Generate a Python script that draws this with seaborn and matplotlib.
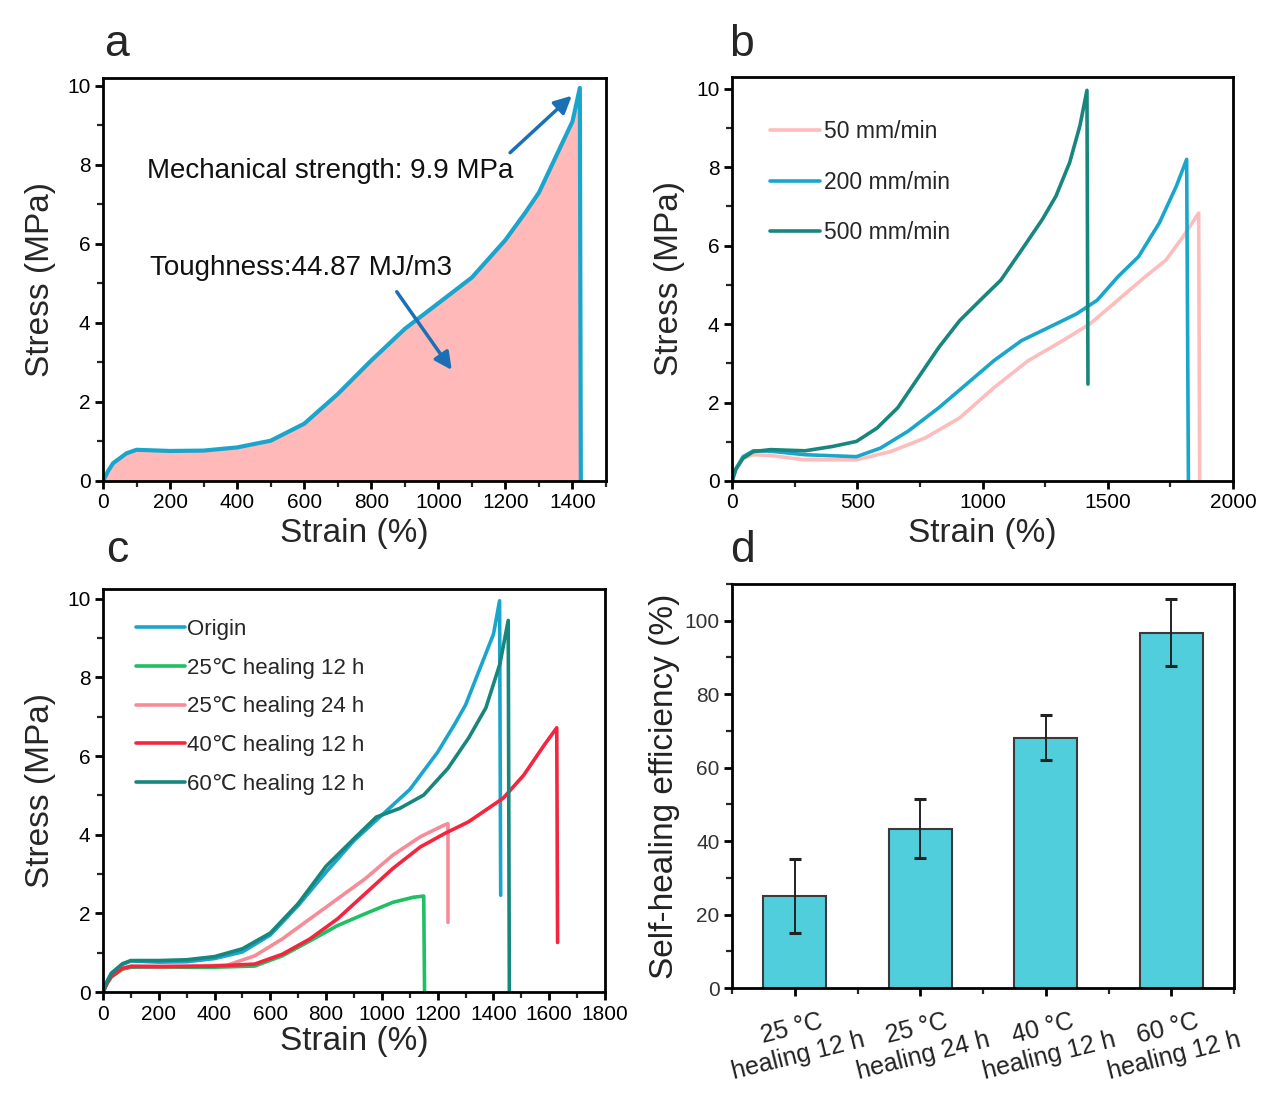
import numpy as np
import pandas as pd
import matplotlib
matplotlib.use('Agg')
import matplotlib.pyplot as plt
import seaborn as sns
from matplotlib.ticker import MultipleLocator

# ---------------- data ----------------
# Origin curve (panels a and c), up to fracture peak
ORIGIN_STRAIN = [0, 15, 30, 70, 100, 200, 300, 400, 500, 600, 700, 800, 900, 1000,
                 1100, 1200, 1260, 1300, 1350, 1400, 1422]
ORIGIN_STRESS = [0, 0.25, 0.45, 0.70, 0.79, 0.76, 0.77, 0.85, 1.02, 1.45, 2.2, 3.05,
                 3.85, 4.5, 5.15, 6.1, 6.8, 7.3, 8.2, 9.1, 9.95]
A_DROP = (1425, 0.0)
C_ORIGIN_DROP = (1426, 2.46)

# Panel b: stretching rate
B50_STRAIN = [0, 15, 44, 85, 154, 291, 497, 634, 772, 909, 1046, 1183, 1321, 1430,
              1540, 1650, 1732, 1801, 1863, 1867]
B50_STRESS = [0, 0.28, 0.58, 0.67, 0.65, 0.54, 0.54, 0.75, 1.1, 1.61, 2.38, 3.07, 3.58,
              4.01, 4.61, 5.21, 5.63, 6.23, 6.83, 0.0]
B200_STRAIN = [0, 15, 44, 85, 154, 291, 497, 593, 703, 826, 936, 1046, 1156, 1266,
               1375, 1458, 1541, 1623, 1706, 1774, 1815, 1822]
B200_STRESS = [0, 0.3, 0.62, 0.77, 0.76, 0.67, 0.62, 0.84, 1.27, 1.87, 2.47, 3.07, 3.58,
               3.92, 4.26, 4.61, 5.21, 5.72, 6.58, 7.52, 8.2, 0.0]
B500_STRAIN = [0, 15, 44, 85, 154, 291, 401, 497, 579, 662, 744, 826, 909, 991, 1073,
               1156, 1238, 1293, 1348, 1389, 1417, 1421]
B500_STRESS = [0, 0.3, 0.58, 0.75, 0.8, 0.77, 0.88, 1.01, 1.35, 1.87, 2.64, 3.41, 4.09,
               4.61, 5.12, 5.89, 6.66, 7.26, 8.12, 9.06, 9.96, 2.47]

# Panel c: healed samples
C60_STRAIN = [0, 15, 30, 70, 100, 200, 300, 400, 500, 600, 700, 800, 900, 980, 1064,
              1150, 1237, 1311, 1373, 1423, 1453, 1457]
C60_STRESS = [0, 0.28, 0.48, 0.72, 0.8, 0.8, 0.82, 0.9, 1.1, 1.5, 2.25, 3.2, 3.9, 4.45,
              4.67, 5.01, 5.69, 6.46, 7.23, 8.34, 9.45, 0.0]
C25_12_STRAIN = [0, 15, 30, 70, 100, 200, 300, 400, 544, 643, 742, 841, 940, 1039,
                 1113, 1150, 1153]
C25_12_STRESS = [0, 0.22, 0.38, 0.58, 0.63, 0.64, 0.63, 0.63, 0.66, 0.92, 1.3, 1.69,
                 1.99, 2.28, 2.41, 2.44, 0.0]
C25_24_STRAIN = [0, 15, 30, 70, 100, 200, 300, 445, 544, 643, 742, 841, 940, 1039, 1138,
                 1225, 1237, 1237]
C25_24_STRESS = [0, 0.25, 0.42, 0.6, 0.66, 0.66, 0.66, 0.68, 0.92, 1.35, 1.86, 2.37,
                 2.88, 3.48, 3.95, 4.25, 4.28, 1.77]
C40_STRAIN = [0, 15, 30, 70, 100, 200, 300, 400, 544, 643, 742, 841, 940, 1039, 1138,
              1225, 1311, 1435, 1509, 1583, 1627, 1630]
C40_STRESS = [0, 0.23, 0.4, 0.6, 0.65, 0.64, 0.65, 0.66, 0.71, 0.96, 1.35, 1.86, 2.5,
              3.14, 3.69, 4.03, 4.33, 4.93, 5.52, 6.29, 6.72, 1.26]

# Panel d: self-healing efficiency
D_LABELS = ["25 °C\nhealing 12 h", "25 °C\nhealing 24 h", "40 °C\nhealing 12 h",
            "60 °C\nhealing 12 h"]
D_VALUES = [25.0, 43.4, 68.2, 96.7]
D_ERRORS = [10.0, 8.0, 6.2, 9.1]

# ---------------- style ----------------
C_BLUE = "#1AA6CC"
C_TEAL = "#17877D"
C_LPINK = "#FDBDBD"
C_PINK = "#F78C99"
C_RED = "#F3253F"
C_GREEN = "#1FBF63"
C_FILL = "#FFB9B9"
C_ARROW = "#1A6FB5"
C_BAR = "#50CEDC"

sns.set_theme(style="ticks")
plt.rcParams["font.family"] = ["Liberation Sans", "DejaVu Sans"]
plt.rcParams["axes.linewidth"] = 2.0
plt.rcParams["axes.edgecolor"] = "black"
plt.rcParams["lines.solid_joinstyle"] = "round"

W, H = 1283, 1094
fig = plt.figure(figsize=(W / 100, H / 100), dpi=100)


def px_axes(left, top, right, bottom):
    return fig.add_axes([left / W, 1 - bottom / H, (right - left) / W, (bottom - top) / H])


axa = px_axes(103, 78, 606, 481)
axb = px_axes(732, 77, 1233, 481)
axc = px_axes(103, 589, 605, 992)
axd = px_axes(732, 584, 1234, 988)

LW = 2.6


def style_axis(ax):
    ax.tick_params(which="major", direction="out", length=6, width=2, labelsize=15,
                   pad=3, top=False, right=False, colors="black")
    ax.tick_params(which="minor", direction="out", length=4, width=1.6,
                   top=False, right=False)
    for s in ax.spines.values():
        s.set_visible(True)
        s.set_linewidth(2.0)
        s.set_color("black")


def curve(ax, xs, ys, color, label=None, lw=LW):
    sns.lineplot(x=xs, y=ys, ax=ax, color=color, lw=lw, sort=False, estimator=None,
                 label=label, legend=False)


# ---------------- panel a ----------------
xa = ORIGIN_STRAIN + [A_DROP[0]]
ya = ORIGIN_STRESS + [A_DROP[1]]
axa.fill_between(xa, ya, 0, color=C_FILL, lw=0)
curve(axa, xa, ya, C_BLUE, lw=3.0)
axa.set_xlim(0, 1500)
axa.set_ylim(0, 10.2)
axa.xaxis.set_major_locator(MultipleLocator(200))
axa.xaxis.set_minor_locator(MultipleLocator(100))
axa.yaxis.set_major_locator(MultipleLocator(2))
axa.yaxis.set_minor_locator(MultipleLocator(1))
axa.text(131, 7.85, "Mechanical strength: 9.9 MPa", fontsize=20, va="center", ha="left",
         color="#111111")
axa.text(140, 5.38, "Toughness:44.87 MJ/m3", fontsize=20, va="center", ha="left",
         color="#111111")
arrow_kw = dict(arrowstyle="-|>", color=C_ARROW, lw=2.5, mutation_scale=26,
                shrinkA=0, shrinkB=0)
axa.annotate("", xy=(1398, 9.75), xytext=(1214, 8.31), arrowprops=arrow_kw)
axa.annotate("", xy=(1040, 2.81), xytext=(876, 4.79), arrowprops=arrow_kw)
axa.set_xlabel("Strain (%)", fontsize=24, labelpad=4)
axa.set_ylabel("Stress (MPa)", fontsize=24, labelpad=8)
style_axis(axa)

# ---------------- panel b ----------------
curve(axb, B50_STRAIN, B50_STRESS, C_LPINK, "50 mm/min")
curve(axb, B200_STRAIN, B200_STRESS, C_BLUE, "200 mm/min")
curve(axb, B500_STRAIN, B500_STRESS, C_TEAL, "500 mm/min")
axb.set_xlim(0, 2000)
axb.set_ylim(0, 10.3)
axb.xaxis.set_major_locator(MultipleLocator(500))
axb.xaxis.set_minor_locator(MultipleLocator(250))
axb.yaxis.set_major_locator(MultipleLocator(2))
axb.yaxis.set_minor_locator(MultipleLocator(1))
axb.set_xlabel("Strain (%)", fontsize=24, labelpad=4)
axb.set_ylabel("Stress (MPa)", fontsize=24, labelpad=8)
axb.legend(loc="upper left", bbox_to_anchor=(0.076, 0.893), frameon=False, fontsize=16.5,
           handlelength=2.2, handletextpad=0.15, labelspacing=1.2, borderaxespad=0,
           borderpad=0)
style_axis(axb)

# ---------------- panel c ----------------
curve(axc, ORIGIN_STRAIN + [C_ORIGIN_DROP[0]], ORIGIN_STRESS + [C_ORIGIN_DROP[1]],
      C_BLUE, "Origin")
curve(axc, C25_12_STRAIN, C25_12_STRESS, C_GREEN, "25℃ healing 12 h")
curve(axc, C25_24_STRAIN, C25_24_STRESS, C_PINK, "25℃ healing 24 h")
curve(axc, C40_STRAIN, C40_STRESS, C_RED, "40℃ healing 12 h")
curve(axc, C60_STRAIN, C60_STRESS, C_TEAL, "60℃ healing 12 h")
axc.set_xlim(0, 1800)
axc.set_ylim(0, 10.25)
axc.xaxis.set_major_locator(MultipleLocator(200))
axc.xaxis.set_minor_locator(MultipleLocator(100))
axc.yaxis.set_major_locator(MultipleLocator(2))
axc.yaxis.set_minor_locator(MultipleLocator(1))
axc.set_xlabel("Strain (%)", fontsize=24, labelpad=2)
axc.set_ylabel("Stress (MPa)", fontsize=24, labelpad=8)
axc.legend(loc="upper left", bbox_to_anchor=(0.065, 0.926), frameon=False, fontsize=16,
           handlelength=2.2, handletextpad=0.1, labelspacing=0.8, borderaxespad=0,
           borderpad=0)
style_axis(axc)

# ---------------- panel d ----------------
df_d = pd.DataFrame({"cond": D_LABELS, "eff": D_VALUES})
sns.barplot(data=df_d, x="cond", y="eff", ax=axd, color=C_BAR, saturation=1,
            edgecolor="#3a3a3a", linewidth=1.5, width=0.5, errorbar=None)
axd.errorbar(x=np.arange(len(D_VALUES)), y=D_VALUES, yerr=D_ERRORS, fmt="none",
             ecolor="#222222", elinewidth=1.4, capsize=4, capthick=2.2)
axd.set_xlim(-0.5, 3.5)
axd.set_ylim(0, 110)
axd.yaxis.set_major_locator(MultipleLocator(20))
axd.yaxis.set_minor_locator(MultipleLocator(10))
axd.xaxis.set_minor_locator(MultipleLocator(0.5))
axd.set_xlabel("")
axd.set_ylabel("Self-healing efficiency (%)", fontsize=24, color="#222222", labelpad=3)
style_axis(axd)
axd.tick_params(axis="y", labelcolor="#333333")
for lab in axd.get_xticklabels():
    lab.set_rotation(14)
    lab.set_ha("center")
    lab.set_fontsize(18)
    lab.set_multialignment("center")
    lab.set_color("#222222")

# ---------------- panel letters ----------------
for letter, (px, py) in {"a": (116, 45), "b": (742, 44), "c": (117, 550),
                         "d": (742, 550)}.items():
    fig.text(px / W, 1 - py / H, letter, fontsize=32, ha="center", va="center")

fig.savefig("out.png", dpi=100, facecolor="white")
